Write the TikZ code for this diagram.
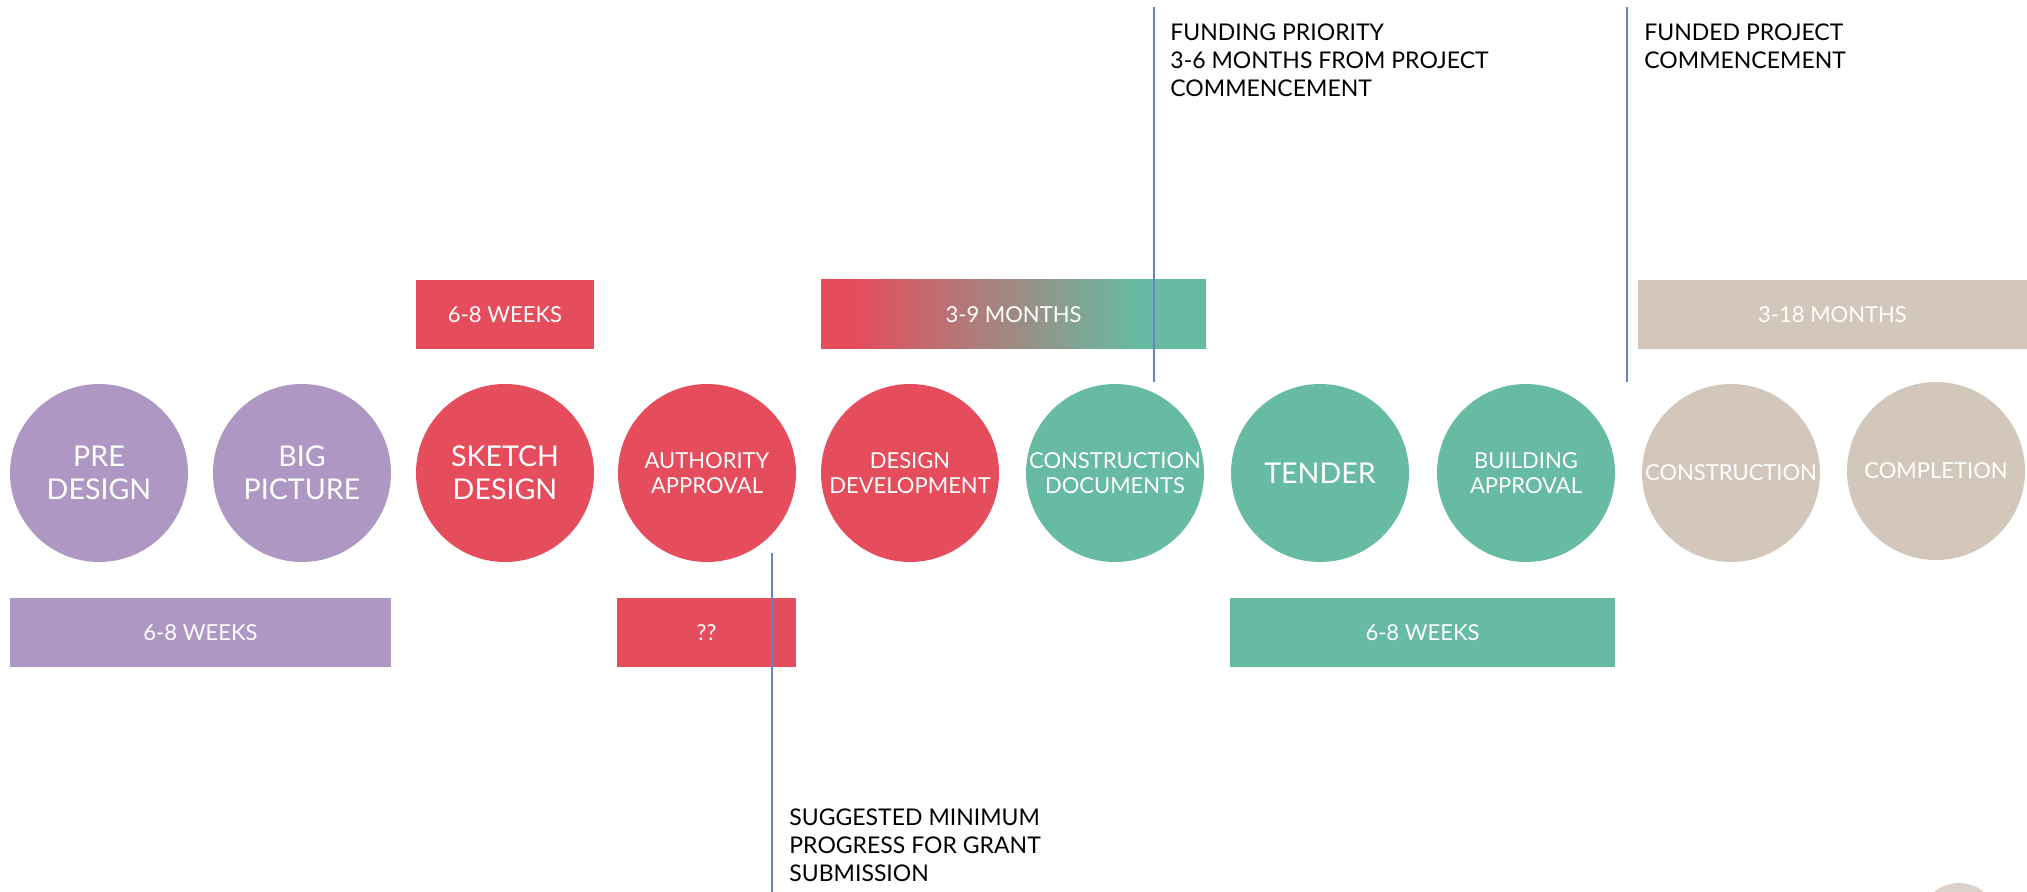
\documentclass[tikz,border=0pt]{standalone}
\usepackage{fontspec}
\setmainfont{Lato}
\usepackage{xcolor}
\definecolor{phasePurple}{RGB}{175, 151, 196}
\definecolor{phaseRed}{RGB}{229, 76, 92}
\definecolor{phaseGreen}{RGB}{102, 187, 162}
\definecolor{phaseBeige}{RGB}{211, 199, 188}
\definecolor{markerBlue}{RGB}{100, 130, 205}
\pgfdeclarehorizontalshading{redToGreen}{100bp}{color(0bp)=(phaseRed); color(29bp)=(phaseRed); color(66bp)=(phaseGreen); color(100bp)=(phaseGreen)}
\tikzset{
  stage/.style={circle,minimum size=89pt,inner sep=0pt,text=white,align=center},
  bigtext/.style={font=\fontsize{14.3}{16.5}\selectfont},
  smalltext/.style={font=\fontsize{11}{12.5}\selectfont},
  span/.style={minimum height=34.5pt,inner sep=0pt,text=white,font=\fontsize{11}{13}\selectfont},
  note/.style={anchor=north west,inner sep=0pt,align=left,font=\fontsize{11.5}{14.2}\selectfont},
  marker/.style={markerBlue,line width=0.6pt}
}
\begin{document}
\begin{tikzpicture}[x=0.5pt,y=-0.5pt]
            \fill[white] (0,0) rectangle (2027,892);
            \useasboundingbox (0,0) rectangle (2027,892);

            % Stages
            \node[stage,bigtext,fill=phasePurple] (pre) at (99,473) {PRE\\DESIGN};
            \node[stage,bigtext,fill=phasePurple] (big) at (302,473) {BIG\\PICTURE};
            \node[stage,bigtext,fill=phaseRed] (sketch) at (505,473) {SKETCH\\DESIGN};
            \node[stage,smalltext,fill=phaseRed] (authority) at (707,473) {AUTHORITY\\APPROVAL};
            \node[stage,smalltext,fill=phaseRed] (devel) at (910,473) {DESIGN\\DEVELOPMENT};
            \node[stage,smalltext,fill=phaseGreen] (docs) at (1115,473) {CONSTRUCTION\\DOCUMENTS};
            \node[stage,bigtext,fill=phaseGreen] (tender) at (1320,473) {TENDER};
            \node[stage,smalltext,fill=phaseGreen] (building) at (1526,473) {BUILDING\\APPROVAL};
            \node[stage,smalltext,fill=phaseBeige] (construction) at (1731,473) {CONSTRUCTION};
            \node[stage,smalltext,fill=phaseBeige] (completion) at (1936,471) {COMPLETION};

            % Durations above
            \node[span,fill=phaseRed,minimum width=89pt] (sketchweeks) at (505,314.5) {6-8 WEEKS};
            \node[span,shade,shading=redToGreen,minimum width=192.5pt] (designmonths) at (1013.5,314.5) {3-9 MONTHS};
            \node[span,fill=phaseBeige,minimum width=194.5pt] (buildmonths) at (1832.5,314.5) {3-18 MONTHS};

            % Durations below
            \node[span,fill=phasePurple,minimum width=190.5pt] (preweeks) at (200.5,632.5) {6-8 WEEKS};
            \node[span,fill=phaseRed,minimum width=89.5pt] (approvalwait) at (706.5,632.5) {??};
            \node[span,fill=phaseGreen,minimum width=192.5pt] (tenderweeks) at (1422.5,632.5) {6-8 WEEKS};

            % Milestones
            \coordinate (priorityTop) at (1154,7);
            \coordinate (priorityEnd) at (1154,382);
            \coordinate (fundedTop) at (1627,7);
            \coordinate (fundedEnd) at (1627,382);
            \coordinate (grantTop) at (772,553);
            \coordinate (grantEnd) at (772,892);
            \draw[marker] (priorityTop) -- (priorityEnd);
            \draw[marker] (fundedTop) -- (fundedEnd);
            \draw[marker] (grantTop) -- (grantEnd);

            \node[note] (prioritynote) at (1170,23) {FUNDING PRIORITY\\3-6 MONTHS FROM PROJECT\\COMMENCEMENT};
            \node[note] (fundednote) at (1644,23) {FUNDED PROJECT\\COMMENCEMENT};
            \node[note] (grantnote) at (789,808) {SUGGESTED MINIMUM\\PROGRESS FOR GRANT\\SUBMISSION};

            % Cut-off shapes at the corner
            \fill[phaseBeige!80] (1959,922) circle (19.5pt);
            \fill[phaseBeige!80] (2056,924) circle (19.5pt);
        \end{tikzpicture}
\end{document}
